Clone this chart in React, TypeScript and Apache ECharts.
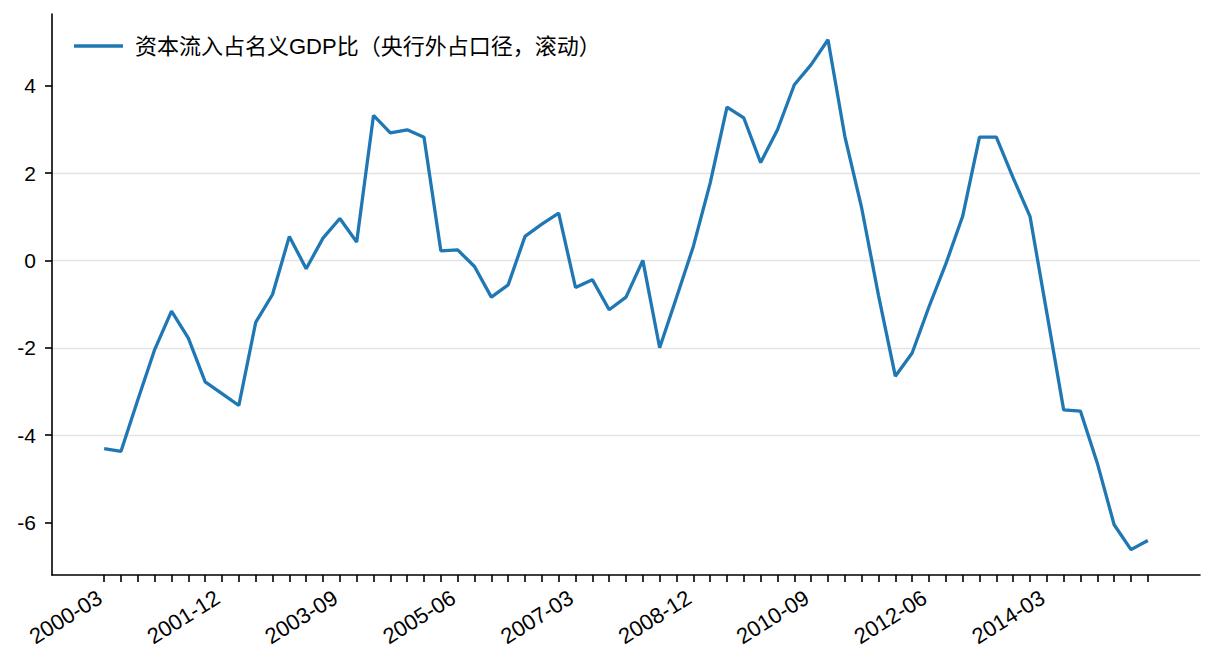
import { useEffect, useRef } from 'react'
import * as echarts from 'echarts'

const quarters = [
  '2000-03', '2000-06', '2000-09', '2000-12',
  '2001-03', '2001-06', '2001-09', '2001-12',
  '2002-03', '2002-06', '2002-09', '2002-12',
  '2003-03', '2003-06', '2003-09', '2003-12',
  '2004-03', '2004-06', '2004-09', '2004-12',
  '2005-03', '2005-06', '2005-09', '2005-12',
  '2006-03', '2006-06', '2006-09', '2006-12',
  '2007-03', '2007-06', '2007-09', '2007-12',
  '2008-03', '2008-06', '2008-09', '2008-12',
  '2009-03', '2009-06', '2009-09', '2009-12',
  '2010-03', '2010-06', '2010-09', '2010-12',
  '2011-03', '2011-06', '2011-09', '2011-12',
  '2012-03', '2012-06', '2012-09', '2012-12',
  '2013-03', '2013-06', '2013-09', '2013-12',
  '2014-03', '2014-06', '2014-09', '2014-12',
  '2015-03', '2015-06', '2015-09',
]

// 资本流入占名义GDP比（%）
const inflowRatio = [
  -4.31, -4.37, -3.19, -2.04, -1.16, -1.78, -2.78, -3.05, -3.32, -1.42,
  -0.78, 0.55, -0.19, 0.51, 0.96, 0.42, 3.32, 2.92, 2.99, 2.82,
  0.22, 0.24, -0.14, -0.84, -0.56, 0.55, 0.83, 1.08, -0.62, -0.44,
  -1.13, -0.84, 0.0, -2.0, -0.85, 0.32, 1.77, 3.51, 3.26, 2.24,
  2.99, 4.02, 4.48, 5.05, 2.84, 1.2, -0.8, -2.65, -2.12, -1.06,
  -0.08, 1.01, 2.82, 2.82, 1.89, 1.01, -1.2, -3.42, -3.45, -4.64,
  -6.05, -6.62, -6.41,
]

const seriesName = '资本流入占名义GDP比（央行外占口径，滚动）'
const yTicks = [-6, -4, -2, 0, 2, 4]
const labelStep = 7

const FONT = '"Liberation Sans", Arial, "Noto Sans CJK SC", sans-serif'
const BLUE = '#1f77b4'

export default function App() {
  const elRef = useRef<HTMLDivElement>(null)

  useEffect(() => {
    if (!elRef.current) return
    const chart = echarts.init(elRef.current, null, { renderer: 'svg' })

    const tickIdx = quarters.map((_, i) => i)
    const labelIdx = tickIdx.filter((i) => i % labelStep === 0)
    const n = quarters.length - 1
    const pad = n * 0.05

    chart.setOption({
      animation: false,
      textStyle: { fontFamily: FONT },
      grid: { left: 52, right: 16, top: 14, bottom: 97 },
      legend: {
        left: 69,
        top: 30,
        icon: 'rect',
        itemWidth: 49,
        itemHeight: 3.3,
        textStyle: { fontSize: 22, color: '#000', fontFamily: FONT, padding: [0, 0, 0, 7] },
        data: [seriesName],
      },
      xAxis: {
        type: 'value',
        min: -pad,
        max: n + pad,
        axisLine: { onZero: false, lineStyle: { color: '#000', width: 1.6 } },
        axisTick: { customValues: tickIdx, length: 7, lineStyle: { color: '#000', width: 1.6 } },
        axisLabel: {
          customValues: labelIdx,
          formatter: (v: number) => quarters[Math.round(v)] ?? '',
          rotate: 32,
          margin: 18,
          padding: [0, 5, 0, 0],
          fontSize: 22,
          color: '#000',
          fontFamily: FONT,
        },
        splitLine: { show: false },
      },
      yAxis: {
        type: 'value',
        min: -7.2,
        max: 5.64,
        minInterval: 2,
        maxInterval: 2,
        axisLine: { show: true, onZero: false, lineStyle: { color: '#000', width: 1.6 } },
        axisTick: { show: true, customValues: yTicks, length: 7, lineStyle: { color: '#000', width: 1.6 } },
        axisLabel: {
          customValues: yTicks,
          margin: 16,
          fontSize: 21,
          color: '#000',
          fontFamily: FONT,
        },
        splitLine: {
          show: true,
          showMinLine: false,
          showMaxLine: false,
          lineStyle: { color: '#e3e3e3', width: 1.4 },
        },
      },
      series: [
        {
          name: seriesName,
          type: 'line',
          data: inflowRatio.map((v, i) => [i, v]),
          showSymbol: false,
          color: BLUE,
          lineStyle: { color: BLUE, width: 3.3 },
        },
      ],
    })

    return () => chart.dispose()
  }, [])

  return (
    <div
      ref={elRef}
      style={{ position: 'absolute', left: 0, top: 0, width: 1216, height: 672 }}
    />
  )
}
